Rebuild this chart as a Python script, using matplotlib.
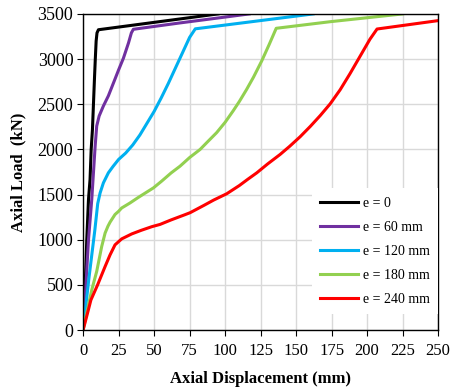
import matplotlib
matplotlib.use('Agg')
import matplotlib.pyplot as plt

plt.rcParams['font.family'] = ['Liberation Serif', 'DejaVu Serif']

labels = ['e = 0', 'e = 60 mm', 'e = 120 mm', 'e = 180 mm', 'e = 240 mm']
colors = ['#000000', '#7030A0', '#00B0F0', '#92D050', '#FF0000']

x_e0 = [0, 1.5, 2.6, 3.8, 4.9, 5.7, 6.6, 7.3, 8.0, 8.6, 9.2, 9.8, 10.8, 68, 95]
y_e0 = [0, 500, 1000, 1444, 1667, 2000, 2222, 2500, 2778, 3000, 3200, 3290, 3325, 3444, 3500]

x_e60 = [0, 2, 3.8, 6.1, 7.3, 8.5, 9.6, 11.3, 14.3, 17.8, 22, 25, 28.4, 32, 34, 35.4, 68, 117]
y_e60 = [0, 500, 1000, 1444, 1741, 2037, 2259, 2370, 2481, 2593, 2760, 2880, 3010, 3180, 3290, 3330, 3400, 3500]

x_e120 = [0, 4, 8.3, 10.3, 12, 14.3, 17.8, 21, 25, 30, 35, 40, 45, 50, 55, 60, 65, 70, 75, 79, 162]
y_e120 = [0, 560, 1110, 1400, 1519, 1630, 1741, 1810, 1889, 1960, 2050, 2160, 2290, 2420, 2570, 2730, 2900, 3070, 3240, 3335, 3500]

x_e180 = [0, 3, 6.1, 9.6, 13.1, 15.5, 17.5, 19, 22.5, 25, 27.2, 33, 39, 49.5, 55.4, 62, 68.3, 75, 82.4, 88,
          94, 100, 105.8, 110, 115, 120, 125.8, 131, 136, 174, 225]
y_e180 = [0, 220, 444, 650, 925, 1074, 1150, 1195, 1280, 1315, 1352, 1407, 1470, 1574, 1650, 1740, 1815, 1910, 2000, 2090,
          2185, 2300, 2430, 2530, 2660, 2800, 2980, 3160, 3341, 3414, 3500]

x_e240 = [0, 3, 5.5, 10.2, 15.5, 19, 22.5, 27.2, 34.3, 41, 48.4, 54.2, 62, 71.8, 75.4, 85, 92, 101.2, 110, 116,
          122.3, 130, 138.7, 145.5, 152.8, 160, 167, 174, 181, 188, 195, 202, 207, 250]
y_e240 = [0, 180, 333, 500, 704, 833, 944, 1010, 1065, 1105, 1145, 1170, 1220, 1278, 1300, 1380, 1440, 1510, 1600, 1670,
          1741, 1840, 1944, 2035, 2140, 2255, 2375, 2505, 2660, 2840, 3030, 3220, 3333, 3426]

series_x = [x_e0, x_e60, x_e120, x_e180, x_e240]
series_y = [y_e0, y_e60, y_e120, y_e180, y_e240]

fig = plt.figure(figsize=(4.54, 3.87), dpi=100)
ax = fig.add_axes([0.183, 0.147, 0.782, 0.817])

for xs, ys, c, lab in zip(series_x, series_y, colors, labels):
    ax.plot(xs, ys, color=c, lw=2.2, label=lab, solid_joinstyle='round')

ax.set_xlim(0, 250)
ax.set_ylim(0, 3500)
ax.set_xticks(range(0, 251, 25))
ax.set_yticks(range(0, 3501, 500))
ax.grid(True, color='#D9D9D9', lw=1)
ax.set_axisbelow(True)
ax.tick_params(axis='x', labelsize=12, direction='out', length=4, width=0.8, pad=5)
ax.tick_params(axis='y', labelsize=13, direction='out', length=4, width=0.8, pad=3)
for s in ax.spines.values():
    s.set_linewidth(1.0)
    s.set_color('black')

ax.set_xlabel('Axial Displacement (mm)', fontsize=12, fontweight='bold', labelpad=9)
ax.set_ylabel('Axial Load  (kN)', fontsize=12, fontweight='bold', labelpad=8)

leg = ax.legend(loc='lower right', bbox_to_anchor=(1.0, 0.05), fontsize=10,
                frameon=True, fancybox=False, edgecolor='none', framealpha=1,
                handlelength=2.75, handletextpad=0.35, labelspacing=0.8,
                borderpad=0.6, borderaxespad=0)

fig.savefig('out.png', dpi=100)
